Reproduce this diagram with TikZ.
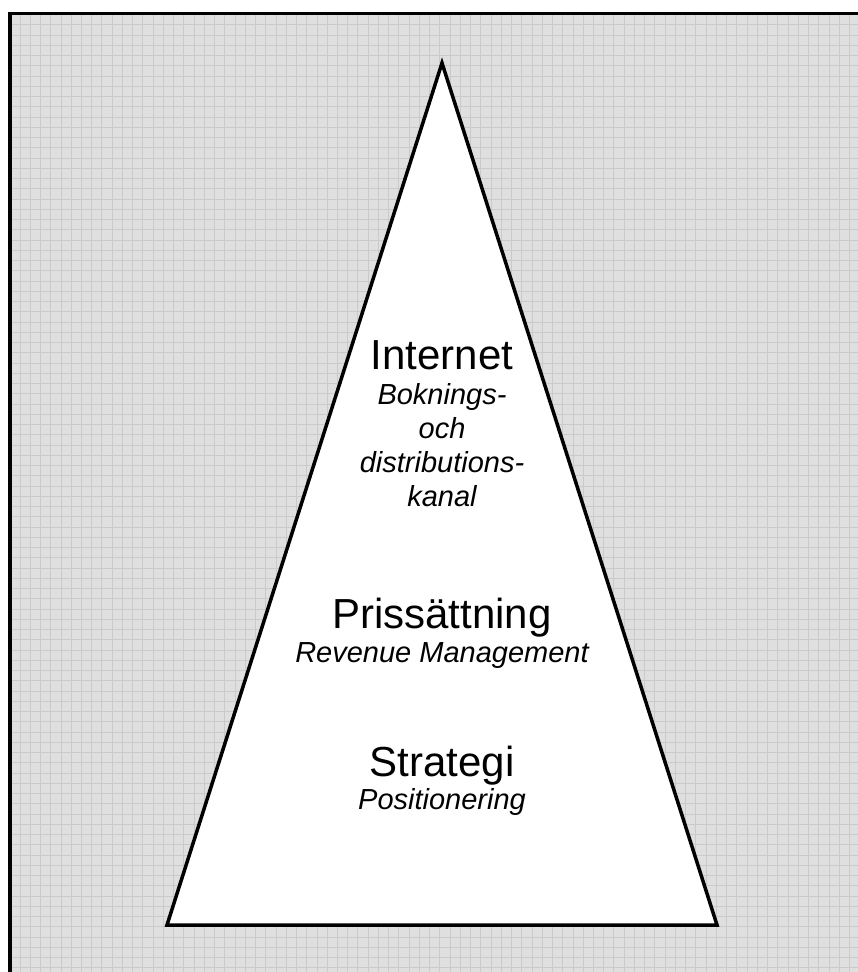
\documentclass[tikz,border=0pt]{standalone}
\usepackage{fontspec}
\setmainfont{Liberation Sans}
\definecolor{bggray}{HTML}{DFDFDF}
\definecolor{gridgray}{HTML}{CACACA}
\begin{document}
\begin{tikzpicture}[x=1pt,y=-1pt,
  big/.style={anchor=base, inner sep=0pt, font=\fontsize{42}{42}\selectfont},
  small/.style={anchor=base, inner sep=0pt, font=\fontsize{29}{29}\selectfont\itshape},
  gridline/.style={draw=gridgray, line width=0.9pt},
  frameline/.style={draw=black, line width=3.5pt},
  pyramid/.style={draw=black, line width=3.5pt, fill=white, line join=miter}]
\useasboundingbox (0,0) rectangle (858,972);
\fill[bggray] (10,13.5) rectangle (870,985);
\begin{scope}
  \clip (10,13.5) rectangle (858,972);
  \foreach \i in {1,...,84} \draw[gridline] ({9.76+10.24*\i},13.5) -- ++(0,970);
  \foreach \j in {0,...,94} \draw[gridline] (10,{14.5+10.25*\j}) -- ++(860,0);
\end{scope}
\coordinate (fbl) at (10,990);
\coordinate (ftl) at (10,13.5);
\coordinate (ftr) at (870,13.5);
\draw[frameline] (fbl) -- (ftl) -- (ftr);
\coordinate (apex) at (442,63);
\coordinate (br) at (717,925);
\coordinate (bl) at (167,925);
\draw[pyramid] (apex) -- (br) -- (bl) -- cycle;
\node[big]   (internet) at (442,369) {Internet};
\node[small] (bok)      at (442,404) {Boknings-};
\node[small] (och)      at (442,438) {och};
\node[small] (dist)     at (442,472) {distributions-};
\node[small] (kanal)    at (442,506) {kanal};
\node[big]   (pris)     at (442,628) {Prissättning};
\node[small] (rev)      at (442,662) {Revenue Management};
\node[big]   (strat)    at (442,776) {Strategi};
\node[small] (pos)      at (442,809) {Positionering};
\end{tikzpicture}
\end{document}
